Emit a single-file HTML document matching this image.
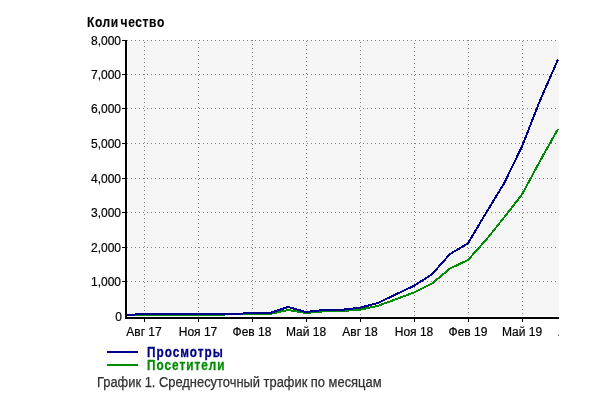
<!DOCTYPE html>
<html><head><meta charset="utf-8">
<style>
html,body{margin:0;padding:0;background:#fff;}
body{width:600px;height:400px;position:relative;overflow:hidden;font-family:"Liberation Sans",sans-serif;}
.t{position:absolute;left:0;top:0;width:600px;height:400px;will-change:transform;}
svg{position:absolute;left:0;top:0;}
.title{position:absolute;left:87px;top:14px;font-weight:bold;font-size:14px;line-height:16px;color:#000;letter-spacing:0.7px;-webkit-text-stroke:0.15px #000;transform:scaleX(0.86);transform-origin:0 0;white-space:nowrap;}
.yl{position:absolute;left:61px;width:60px;text-align:right;font-size:12px;line-height:14px;color:#000;-webkit-text-stroke:0.2px #000;}
.xclip{position:absolute;left:0;top:0;width:559px;height:400px;overflow:hidden;}
.xl{position:absolute;top:325px;width:60px;text-align:center;font-size:12px;line-height:14px;color:#000;-webkit-text-stroke:0.2px #000;}
.leg{position:absolute;left:147px;font-weight:bold;font-size:14px;line-height:16px;letter-spacing:1.2px;-webkit-text-stroke:0.3px currentColor;transform:scaleX(0.84);transform-origin:0 0;white-space:nowrap;}
.cap{position:absolute;left:97px;top:374px;font-size:14px;line-height:16px;color:#303030;-webkit-text-stroke:0.25px #303030;transform:scaleX(0.921);transform-origin:0 0;white-space:nowrap;}
</style></head><body>
<svg width="600" height="400" viewBox="0 0 600 400">
<rect x="128" y="40" width="431" height="276" fill="#f5f5f5"/>
<line x1="127" y1="40.5" x2="559" y2="40.5" stroke="#808080" stroke-width="1" stroke-dasharray="1 3" stroke-dashoffset="-4"/>
<line x1="127" y1="74.5" x2="559" y2="74.5" stroke="#808080" stroke-width="1" stroke-dasharray="1 3" stroke-dashoffset="-4"/>
<line x1="127" y1="108.5" x2="559" y2="108.5" stroke="#808080" stroke-width="1" stroke-dasharray="1 3" stroke-dashoffset="-4"/>
<line x1="127" y1="143.5" x2="559" y2="143.5" stroke="#808080" stroke-width="1" stroke-dasharray="1 3" stroke-dashoffset="-4"/>
<line x1="127" y1="178.5" x2="559" y2="178.5" stroke="#808080" stroke-width="1" stroke-dasharray="1 3" stroke-dashoffset="-4"/>
<line x1="127" y1="212.5" x2="559" y2="212.5" stroke="#808080" stroke-width="1" stroke-dasharray="1 3" stroke-dashoffset="-4"/>
<line x1="127" y1="247.5" x2="559" y2="247.5" stroke="#808080" stroke-width="1" stroke-dasharray="1 3" stroke-dashoffset="-4"/>
<line x1="127" y1="281.5" x2="559" y2="281.5" stroke="#808080" stroke-width="1" stroke-dasharray="1 3" stroke-dashoffset="-4"/>
<line x1="144.5" y1="40" x2="144.5" y2="316" stroke="#808080" stroke-width="1" stroke-dasharray="1 3" stroke-dashoffset="-2"/>
<line x1="198.5" y1="40" x2="198.5" y2="316" stroke="#808080" stroke-width="1" stroke-dasharray="1 3" stroke-dashoffset="-3"/>
<line x1="252.5" y1="40" x2="252.5" y2="316" stroke="#808080" stroke-width="1" stroke-dasharray="1 3" stroke-dashoffset="-0"/>
<line x1="306.5" y1="40" x2="306.5" y2="316" stroke="#808080" stroke-width="1" stroke-dasharray="1 3" stroke-dashoffset="-1"/>
<line x1="360.5" y1="40" x2="360.5" y2="316" stroke="#808080" stroke-width="1" stroke-dasharray="1 3" stroke-dashoffset="-2"/>
<line x1="414.5" y1="40" x2="414.5" y2="316" stroke="#808080" stroke-width="1" stroke-dasharray="1 3" stroke-dashoffset="-3"/>
<line x1="468.5" y1="40" x2="468.5" y2="316" stroke="#808080" stroke-width="1" stroke-dasharray="1 3" stroke-dashoffset="-0"/>
<line x1="522.5" y1="40" x2="522.5" y2="316" stroke="#808080" stroke-width="1" stroke-dasharray="1 3" stroke-dashoffset="-1"/>
<polyline points="126,315 144,315 162,315 180,315 198,315 216,315 234,314 252,314 270,314 288,310 306,313 324,311.3 342,311 360,309.7 378,305.8 396,299.2 414,292.5 432,283.5 450,268.5 468,260 486,240 504,217.5 522,194.5 540,161 558,129" fill="none" stroke="#008c00" stroke-width="2" stroke-linejoin="round" shape-rendering="crispEdges"/>
<polyline points="126,315 144,314 162,314 180,314 198,314 216,314 234,314 252,313 270,313 288,307 306,312 324,310 342,309.8 360,307.7 378,303 396,294.3 414,285.8 432,274.3 450,254 468,243.3 486,213 504,183.5 522,146.5 540,100.5 558,59.5" fill="none" stroke="#00008c" stroke-width="2" stroke-linejoin="round" shape-rendering="crispEdges"/>
<rect x="125" y="40" width="2" height="279" fill="#000"/>
<rect x="125" y="317" width="434" height="2" fill="#000"/>
<rect x="122" y="40" width="3" height="1" fill="#000"/>
<rect x="122" y="74" width="3" height="1" fill="#000"/>
<rect x="122" y="108" width="3" height="1" fill="#000"/>
<rect x="122" y="143" width="3" height="1" fill="#000"/>
<rect x="122" y="178" width="3" height="1" fill="#000"/>
<rect x="122" y="212" width="3" height="1" fill="#000"/>
<rect x="122" y="247" width="3" height="1" fill="#000"/>
<rect x="122" y="281" width="3" height="1" fill="#000"/>
<rect x="144" y="319" width="1" height="3" fill="#000"/>
<rect x="198" y="319" width="1" height="3" fill="#000"/>
<rect x="252" y="319" width="1" height="3" fill="#000"/>
<rect x="306" y="319" width="1" height="3" fill="#000"/>
<rect x="360" y="319" width="1" height="3" fill="#000"/>
<rect x="414" y="319" width="1" height="3" fill="#000"/>
<rect x="468" y="319" width="1" height="3" fill="#000"/>
<rect x="522" y="319" width="1" height="3" fill="#000"/>
<rect x="107" y="351" width="31" height="2" fill="#00008c"/>
<rect x="107" y="364" width="31" height="2" fill="#008c00"/>
</svg>
<div class="t">
<div class="title">Коли<span style="margin-left:2px">чество</span></div>
<div class="yl" style="top:34px">8,000</div>
<div class="yl" style="top:68px">7,000</div>
<div class="yl" style="top:102px">6,000</div>
<div class="yl" style="top:137px">5,000</div>
<div class="yl" style="top:172px">4,000</div>
<div class="yl" style="top:206px">3,000</div>
<div class="yl" style="top:241px">2,000</div>
<div class="yl" style="top:275px">1,000</div>
<div class="yl" style="top:310px;left:62px">0</div>
<div class="xclip">
<div class="xl" style="left:114px">Авг 17</div>
<div class="xl" style="left:168px">Ноя 17</div>
<div class="xl" style="left:222px">Фев 18</div>
<div class="xl" style="left:276px">Май 18</div>
<div class="xl" style="left:330px">Авг 18</div>
<div class="xl" style="left:384px">Ноя 18</div>
<div class="xl" style="left:438px">Фев 19</div>
<div class="xl" style="left:492px">Май 19</div>
<div class="xl" style="left:546px">Авг 19</div>
</div>
<div class="leg" style="top:344px;color:#00008a">Просмотры</div>
<div class="leg" style="top:357px;color:#008c00">Посетители</div>
<div class="cap">График 1. Среднесуточный трафик по месяцам</div>
</div>
</body></html>
